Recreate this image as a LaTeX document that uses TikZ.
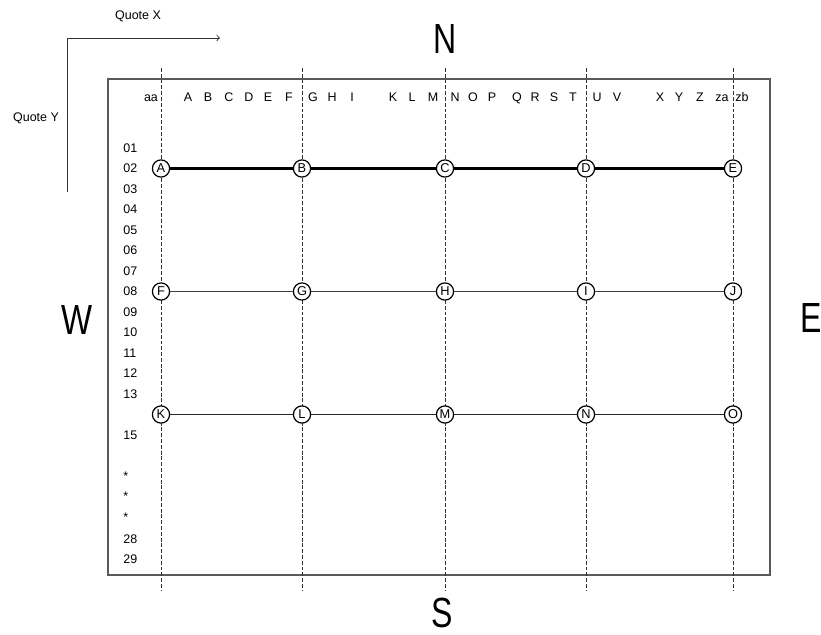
\documentclass[tikz,border=0pt]{standalone}
\usepackage{fontspec}
\setmainfont{Liberation Sans}

\begin{document}
\begin{tikzpicture}[x=0.02cm,y=-0.02cm,
    lbl/.style={font=\fontsize{7.1}{8}\selectfont,inner sep=0pt,
      text height=5.1pt,text depth=0pt},
    knot/.style={draw,circle,fill=white,line width=0.7pt,inner sep=0pt,
      minimum size=9.8pt,font=\fontsize{7.3}{8}\selectfont},
    compass/.style={font=\fontsize{24}{28}\selectfont,inner sep=0pt},
    grid line/.style={black!80,line width=0.5pt,dash pattern=on 2.2pt off 1.1pt}]
  \useasboundingbox (0,0) rectangle (821,635);

  % frame
  \draw[black!65,line width=0.6pt] (108,79) rectangle (770,575);

  % quote axes
  \coordinate (orig) at (67,38);
  \coordinate (xend) at (220,38);
  \coordinate (yend) at (67,192);
  \draw[black!80,line width=0.5pt,->] (yend) -- (orig) -- (xend);
  \node[lbl] (qx) at (138,15) {Quote X};
  \node[lbl] (qy) at (36,117) {Quote Y};

  % compass
  \node[compass] (north) at (445,39) {\scalebox{0.76}[1]{N}};
  \node[compass] (south) at (442,613) {\scalebox{0.76}[1]{S}};
  \node[compass] (west) at (77,320) {\scalebox{0.78}[1]{W}};
  \node[compass] (east) at (811,318) {\scalebox{0.76}[1]{E}};

  % dashed axes
  \foreach \x [count=\n] in {161,302,445,586,733} {
    \coordinate (top\n) at (\x,68);
    \coordinate (bot\n) at (\x,590);
    \draw[grid line] (top\n) -- (bot\n);
  }

  % column labels
  \foreach \v/\x in {aa/151,A/188,B/208,C/229,D/249,E/268,F/289,G/313,H/332,I/352,
      K/393,L/412,M/433,N/455,O/473,P/492,Q/517,R/535,S/554,T/573,U/597,V/617,
      X/660,Y/679,Z/700,za/722,zb/742}
    \node[lbl] (col\v) at (\x,97) {\v};

  % row labels
  \foreach \v/\y [count=\n] in {01/148,02/168.5,03/189,04/209.5,05/230,06/250.5,
      07/271,08/291.5,09/312,10/332.5,11/353,12/373.5,13/394,15/435,
      */476,*/496.5,*/517,28/539,29/559}
    \node[lbl,anchor=west] (row\n) at (123,\y) {\v};

  % points
  \foreach \v/\x/\y in {A/161/168.5,B/302/168.5,C/445/168.5,D/586/168.5,E/733/168.5,
      F/161/291.5,G/302/291.5,H/445/291.5,I/586/291.5,J/733/291.5,
      K/161/414.5,L/302/414.5,M/445/414.5,N/586/414.5,O/733/414.5}
    \node[knot] (\v) at (\x,\y) {\v};

  \draw[line width=1.7pt] (A) -- (B) -- (C) -- (D) -- (E);
  \draw[black!75,line width=0.5pt] (F) -- (G) -- (H) -- (I) -- (J);
  \draw[black!85,line width=0.5pt] (K) -- (L) -- (M) -- (N) -- (O);
\end{tikzpicture}
\end{document}
